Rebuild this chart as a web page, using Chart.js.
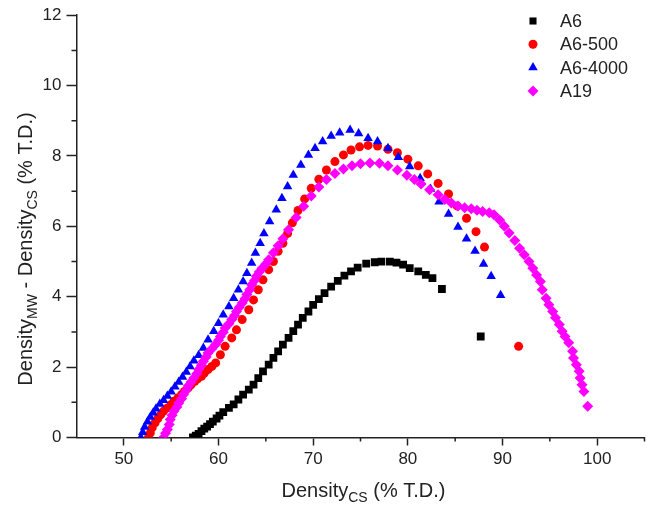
<!DOCTYPE html>
<html lang="en">
<head>
<meta charset="UTF-8">
<title>Density difference vs conventional sintering density</title>
<style>
    html, body { margin: 0; padding: 0; background: #fff; }
    #chartBox { width: 650px; height: 509px; }
</style>
</head>
<body>
<div id="chartBox"><canvas id="densityChart" width="650" height="509"></canvas></div>

<script src="https://cdn.jsdelivr.net/npm/chart.js"></script>
<script>
// values
const a6X = [57.3, 57.6, 57.9, 58.2, 58.5, 58.8, 59.1, 59.4, 59.8, 60.1, 60.5, 61.1, 61.6, 62.1, 62.6, 63.2, 63.7, 64.2,
    64.7, 65.3, 65.8, 66.3, 66.8, 67.4, 67.9, 68.4, 68.9, 69.5, 70.0, 70.6, 71.2, 71.9, 72.6, 73.3, 74.0, 74.7, 75.6,
    76.5, 77.2, 78.1, 78.8, 79.5, 80.2, 81.1, 81.9, 82.6, 83.6, 87.7];
const a6Y = [0.0, 0.05, 0.1, 0.18, 0.25, 0.31, 0.38, 0.45, 0.54, 0.62, 0.72, 0.84, 0.94, 1.08, 1.22, 1.36, 1.50, 1.69,
    1.88, 2.07, 2.26, 2.45, 2.64, 2.83, 3.02, 3.21, 3.40, 3.58, 3.77, 3.93, 4.10, 4.29, 4.45, 4.60, 4.72, 4.83, 4.94,
    4.98, 5.00, 5.00, 4.97, 4.91, 4.81, 4.72, 4.62, 4.53, 4.22, 2.87];

const a6_500X = [52.6, 52.8, 53.0, 53.3, 53.6, 53.9, 54.2, 54.6, 55.0, 55.3, 55.7, 56.1, 56.4, 56.8, 57.1, 57.5, 57.8,
    58.2, 58.5, 58.9, 59.3, 59.7, 60.2, 60.7, 61.4, 61.9, 62.5, 63.2, 63.7, 64.2, 64.7, 65.3, 65.8, 66.3, 66.8, 67.3,
    67.8, 68.4, 69.1, 69.8, 70.6, 71.4, 72.3, 73.2, 74.0, 74.9, 75.8, 76.8, 77.9, 78.9, 80.0, 81.1, 82.1, 83.2, 84.3,
    85.2, 86.2, 87.2, 88.1, 91.7];
const a6_500Y = [0.0, 0.13, 0.28, 0.42, 0.54, 0.65, 0.75, 0.84, 0.94, 1.03, 1.12, 1.22, 1.31, 1.41, 1.50, 1.60, 1.67,
    1.74, 1.83, 1.93, 2.02, 2.12, 2.35, 2.59, 2.83, 3.06, 3.35, 3.63, 3.91, 4.20, 4.48, 4.77, 5.00, 5.29, 5.52, 5.80,
    6.10, 6.45, 6.78, 7.08, 7.34, 7.60, 7.84, 8.03, 8.17, 8.26, 8.30, 8.28, 8.19, 8.09, 7.91, 7.72, 7.49, 7.22, 6.92,
    6.58, 6.23, 5.85, 5.41, 2.59];

const a6_4000X = [51.8, 52.0, 52.2, 52.5, 52.8, 53.1, 53.4, 53.8, 54.2, 54.6, 55.0, 55.4, 55.8, 56.2, 56.6, 57.0, 57.4,
    57.9, 58.4, 58.9, 59.5, 60.0, 60.5, 61.1, 61.6, 62.1, 62.6, 63.0, 63.5, 63.9, 64.4, 64.8, 65.4, 66.1, 66.7, 67.3,
    67.9, 68.7, 69.5, 70.2, 71.0, 71.9, 72.8, 73.9, 74.8, 75.8, 76.8, 77.9, 79.0, 80.2, 81.3, 82.4, 83.3, 84.3, 85.3,
    86.2, 87.1, 88.0, 88.8, 89.8];
const a6_4000Y = [0.0, 0.15, 0.30, 0.45, 0.58, 0.70, 0.82, 0.95, 1.06, 1.18, 1.30, 1.44, 1.58, 1.72, 1.86, 2.02, 2.18,
    2.34, 2.54, 2.78, 3.02, 3.25, 3.49, 3.72, 3.96, 4.20, 4.43, 4.67, 4.96, 5.24, 5.52, 5.80, 6.14, 6.47, 6.80, 7.13,
    7.46, 7.74, 8.03, 8.22, 8.41, 8.57, 8.66, 8.74, 8.64, 8.50, 8.41, 8.22, 7.96, 7.70, 7.37, 7.06, 6.70, 6.35, 5.98,
    5.65, 5.30, 4.93, 4.58, 4.04];

const a19X = [54.2, 54.4, 54.6, 54.8, 54.9, 55.1, 55.3, 55.6, 55.8, 56.1, 56.3, 56.6, 56.8, 57.1, 57.4, 57.7, 57.9, 58.2,
    58.4, 58.7, 58.9, 59.3, 59.7, 60.0, 60.2, 60.5, 60.7, 61.1, 61.4, 61.7, 61.9, 62.2, 62.5, 62.8, 63.0, 63.3, 63.5,
    63.8, 64.0, 64.3, 64.6, 65.0, 65.3, 65.8, 66.3, 66.8, 67.4, 68.2, 69.0, 69.8, 70.6, 71.4, 72.3, 73.2, 74.1, 75.0,
    76.0, 77.0, 77.9, 78.9, 79.9, 80.7, 81.4, 82.3, 83.2, 83.9, 84.6, 85.3, 86.0, 86.7, 87.3, 87.9, 88.6, 89.1, 89.7,
    90.2, 90.7, 91.3, 91.8, 92.3, 92.8, 93.2, 93.6, 94.0, 94.2, 94.6, 94.9, 95.3, 95.6, 96.0, 96.3, 96.6, 97.0, 97.4,
    97.5, 97.8, 98.1, 98.2, 98.4, 98.6, 99.0];
const a19Y = [0.0, 0.12, 0.23, 0.37, 0.51, 0.63, 0.75, 0.87, 0.98, 1.10, 1.22, 1.34, 1.46, 1.58, 1.69, 1.81, 1.93, 2.05,
    2.17, 2.29, 2.40, 2.52, 2.64, 2.76, 2.87, 2.99, 3.11, 3.23, 3.35, 3.47, 3.58, 3.70, 3.82, 3.94, 4.06, 4.20, 4.34,
    4.46, 4.58, 4.70, 4.81, 4.93, 5.05, 5.25, 5.45, 5.65, 5.90, 6.25, 6.57, 6.86, 7.12, 7.33, 7.50, 7.63, 7.72, 7.78,
    7.80, 7.79, 7.72, 7.60, 7.45, 7.33, 7.20, 7.04, 6.90, 6.76, 6.66, 6.58, 6.53, 6.50, 6.46, 6.42, 6.39, 6.33, 6.18,
    6.00, 5.81, 5.60, 5.38, 5.19, 5.00, 4.81, 4.62, 4.43, 4.20, 3.96, 3.77, 3.58, 3.40, 3.21, 3.02, 2.87, 2.69, 2.45,
    2.26, 2.07, 1.88, 1.69, 1.50, 1.31, 0.89];

const seriesNames = ['A6', 'A6-500', 'A6-4000', 'A19'];
const xTickLabels = [50, 60, 70, 80, 90, 100];
const yTickLabels = [0, 2, 4, 6, 8, 10, 12];

const FONT = "'Liberation Sans', Arial, Helvetica, sans-serif";
const INK = '#222';

Chart.defaults.font.family = FONT;
Chart.defaults.color = INK;

function toPoints(xs, ys) {
    return xs.map((x, i) => ({ x: x, y: ys[i] }));
}

// draws a run of [text, size, shift] pieces starting at x, y on the current baseline
function drawRich(ctx, parts, x, y) {
    parts.forEach(p => {
        ctx.font = p[1] + 'px ' + FONT;
        ctx.fillText(p[0], x, y + p[2]);
        x += ctx.measureText(p[0]).width;
    });
}

function richWidth(ctx, parts) {
    let w = 0;
    parts.forEach(p => {
        ctx.font = p[1] + 'px ' + FONT;
        w += ctx.measureText(p[0]).width;
    });
    return w;
}

// minor ticks, axis titles with subscripts and the legend box
const extrasPlugin = {
    id: 'extras',
    afterDraw(chart) {
        const ctx = chart.ctx;
        const xs = chart.scales.x;
        const ys = chart.scales.y;
        ctx.save();

        ctx.strokeStyle = INK;
        ctx.lineWidth = 1.5;
        ctx.beginPath();
        xs.ticks.forEach(t => {
            if (xTickLabels.includes(t.value) || t.value === xs.min) return;
            const px = xs.getPixelForValue(t.value);
            ctx.moveTo(px, xs.top);
            ctx.lineTo(px, xs.top + 4);
        });
        ys.ticks.forEach(t => {
            if (yTickLabels.includes(t.value)) return;
            const py = ys.getPixelForValue(t.value);
            ctx.moveTo(ys.right, py);
            ctx.lineTo(ys.right - 5, py);
        });
        ctx.stroke();

        ctx.fillStyle = INK;
        ctx.textBaseline = 'alphabetic';
        ctx.textAlign = 'left';

        const xTitle = [['Density', 20, 0], ['CS', 14, 5], [' (% T.D.)', 20, 0]];
        const xCenter = (chart.chartArea.left + chart.chartArea.right) / 2 + 3;
        drawRich(ctx, xTitle, xCenter - richWidth(ctx, xTitle) / 2, 497);

        const yTitle = [['Density', 20, 0], ['MW', 14, 5], [' - Density', 20, 0], ['CS', 14, 5], [' (% T.D.)', 20, 0]];
        ctx.save();
        ctx.translate(31.5, 249);
        ctx.rotate(-Math.PI / 2);
        drawRich(ctx, yTitle, -richWidth(ctx, yTitle) / 2, 0);
        ctx.restore();

        // legend
        ctx.font = '18px ' + FONT;
        ctx.textBaseline = 'middle';
        chart.data.datasets.forEach((ds, i) => {
            const ly = 21 + i * 23.3;
            ctx.fillStyle = ds.backgroundColor;
            Chart.helpers.drawPoint(ctx, { pointStyle: ds.pointStyle, radius: ds.legendRadius, rotation: 0, borderWidth: 0 }, 533, ly);
            ctx.fillStyle = INK;
            ctx.fillText(ds.label, 560, ly + 1);
        });

        ctx.restore();
    }
};

const ctx = document.getElementById('densityChart').getContext('2d');
new Chart(ctx, {
    type: 'scatter',
    data: {
        datasets: [
            { label: seriesNames[0], data: toPoints(a6X, a6Y), pointStyle: 'rect', pointRadius: 5.5, legendRadius: 5,
              backgroundColor: '#000000', borderColor: '#000000', borderWidth: 0, order: 4 },
            { label: seriesNames[1], data: toPoints(a6_500X, a6_500Y), pointStyle: 'circle', pointRadius: 4.5, legendRadius: 4.5,
              backgroundColor: '#ff0000', borderColor: '#ff0000', borderWidth: 0, order: 3 },
            { label: seriesNames[2], data: toPoints(a6_4000X, a6_4000Y), pointStyle: 'triangle', pointRadius: 5.5, legendRadius: 5.5,
              backgroundColor: '#0000ff', borderColor: '#0000ff', borderWidth: 0, order: 2 },
            { label: seriesNames[3], data: toPoints(a19X, a19Y), pointStyle: 'rectRot', pointRadius: 5.5, legendRadius: 5.5,
              backgroundColor: '#ff00ff', borderColor: '#ff00ff', borderWidth: 0, order: 1 }
        ]
    },
    options: {
        responsive: false,
        animation: false,
        layout: { padding: { top: 14.5, right: 1, bottom: 0, left: 0 } },
        plugins: {
            legend: { display: false },
            tooltip: { enabled: false }
        },
        scales: {
            x: {
                type: 'linear',
                min: 45,
                max: 105,
                afterFit: s => { s.height = 71.5; },
                ticks: {
                    stepSize: 5,
                    autoSkip: false,
                    maxRotation: 0,
                    padding: 4,
                    color: INK,
                    font: { size: 17 },
                    callback: v => xTickLabels.includes(v) ? String(v) : ''
                },
                grid: {
                    drawOnChartArea: false,
                    tickLength: 8,
                    tickWidth: 1.5,
                    tickColor: c => (c.tick && xTickLabels.includes(c.tick.value)) ? INK : 'rgba(0,0,0,0)'
                },
                border: { color: INK, width: 1.5 }
            },
            y: {
                type: 'linear',
                min: 0,
                max: 12,
                afterFit: s => { s.width = 76.5; },
                ticks: {
                    stepSize: 1,
                    autoSkip: false,
                    padding: 5,
                    color: INK,
                    font: { size: 17 },
                    callback: v => yTickLabels.includes(v) ? String(v) : ''
                },
                grid: {
                    drawOnChartArea: false,
                    tickLength: 10,
                    tickWidth: 1.5,
                    tickColor: c => (c.tick && yTickLabels.includes(c.tick.value)) ? INK : 'rgba(0,0,0,0)'
                },
                border: { color: INK, width: 1.5 }
            }
        }
    },
    plugins: [extrasPlugin]
});
</script>
</body>
</html>
